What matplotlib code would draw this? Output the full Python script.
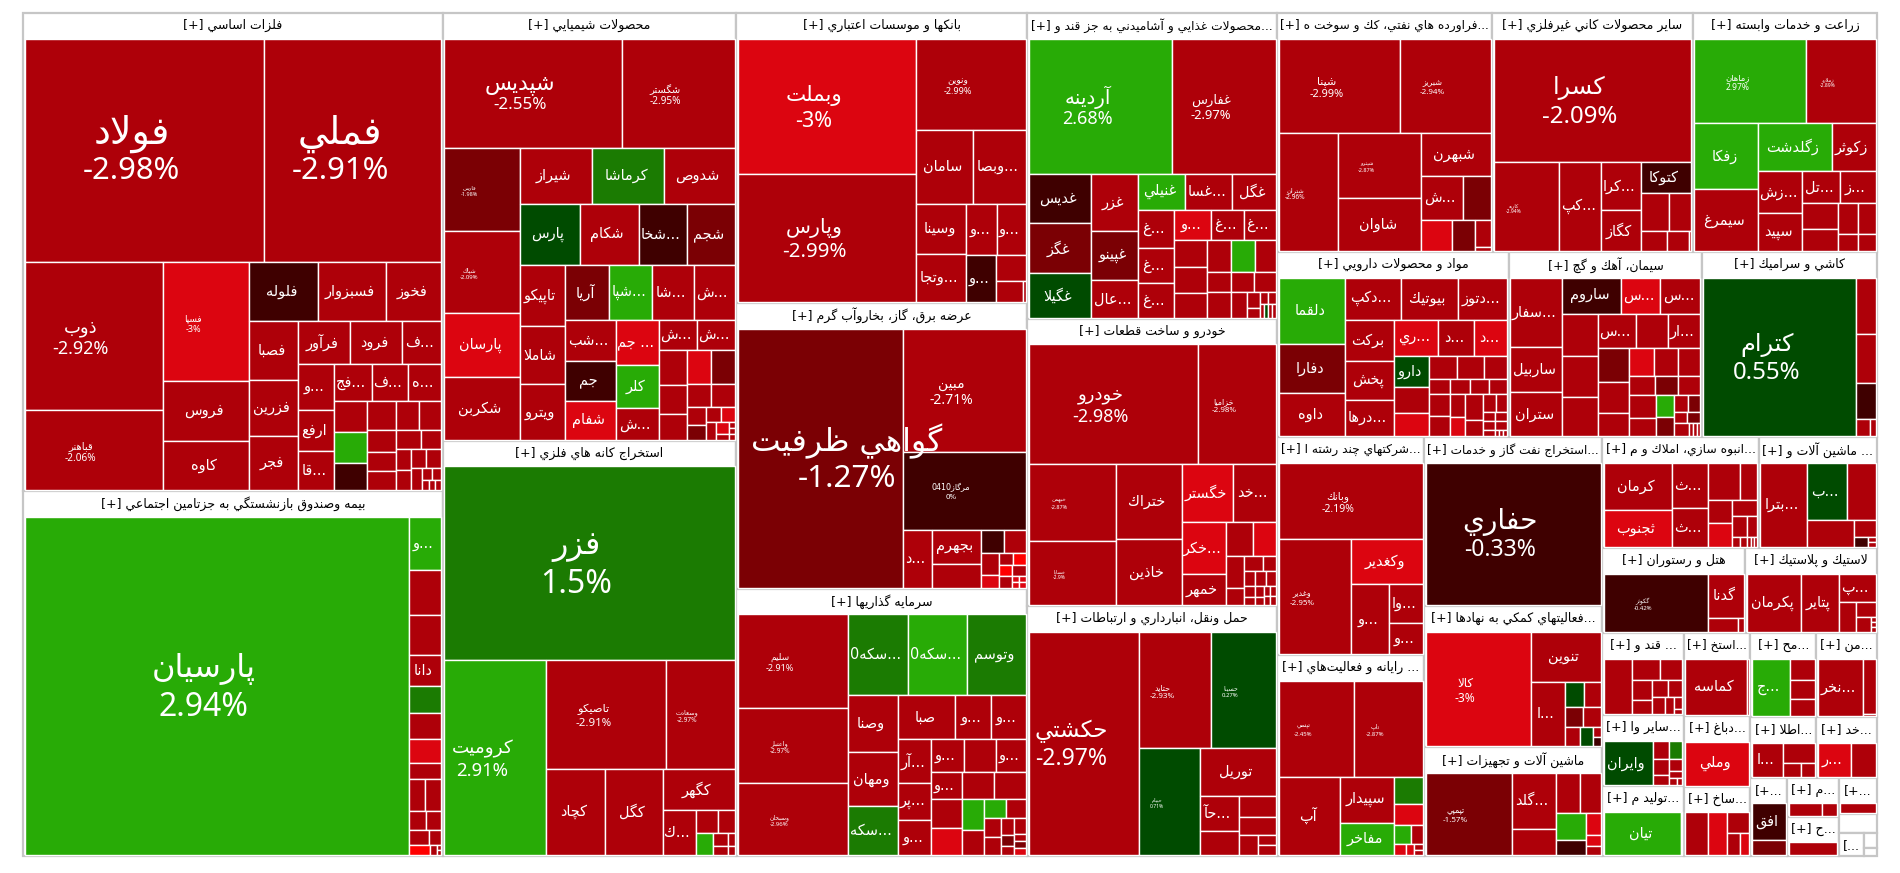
import re
import matplotlib
matplotlib.use("Agg")
import matplotlib.pyplot as plt
from matplotlib.colors import ListedColormap, BoundaryNorm
from matplotlib.patches import Rectangle

# cells: ["h"/"v", children...], leaf = (symbol, change %, market value)
metals_cells = ["v",
    ["h", ("فولاد", -2.98, 4802), ("فملي", -2.91, 3542)],
    ["h",
        ["v", ("ذوب", -2.92, 1834), ("قباهنر", -2.06, 988)],
        ["v", ("فسپا", -3, 916), ("فروس", -2.5, 457), ("كاوه", -2.5, 382)],
        ["v",
            ["h", ("فلوله", -0.5, 362), ("فسبزوار", -2.5, 355), ("فخوز", -2.5, 294)],
            ["h",
                ["v", ("فصبا", -2.5, 254), ("فزرين", -2.5, 242), ("فجر", -2.5, 236)],
                ["v",
                    ["h", ("فرآور", -2.5, 201), ("فرود", -2.5, 201), ("...ف", -2.5, 152)],
                    ["h",
                        ["v", ("...و", -2.5, 149), ("ارفع", -2.5, 134), ("...قا", -2.5, 130)],
                        ["v",
                            ["h", ("...فج", -2.5, 124), ("...ف", -2.5, 121), ("...ه", -2.5, 110)],
                            ["h",
                                ["v", ("", -2.5, 93), ("", 2.9, 92), ("", -0.5, 80)],
                                ["v",
                                    ["h", ("", -2.5, 72), ("", -2.5, 60), ("", -2.5, 58)],
                                    ["h",
                                        ["v", ("", -2.5, 55), ("", -2.5, 49), ("", -2.5, 48)],
                                        ["v",
                                            ["h", ("", -2.5, 45), ("", -2.5, 35)],
                                            ["h",
                                                ["v", ("", -2.5, 28), ("", -2.5, 27)],
                                                ["v",
                                                    ["h", ("", -2.5, 25), ("", -2.5, 26)],
                                                    ["h", ("", -2.5, 23),
                                                        ["v",
                                                            ["h", ("", -2.5, 10), ("", -2.5, 10)],
                                                            ["h", ("", -2.5, 6), ("", -2.5, 6), ("", -2.5, 6)]]]]]]]]]]]]]]]]

insurance_cells = ["h", ("پارسيان", 2.94, 11622),
    ["v", ("...و", 2.9, 155), ("", -2.5, 132), ("", -2.5, 116), ("دانا", -2.5, 90),
        ("", 1.5, 78), ("", -2.5, 75), ("", -3, 69), ("", -2.5, 47),
        ["h", ("", -2.5, 46), ("", -2.5, 47)],
        ["h", ("", -2.5, 28), ("", -2.5, 26)],
        ["h", ("", -2.5, 27), ("", -2.5, 17)],
        ["h", ("", -4, 19), ("", -2.5, 7), ["v", ("", -2.5, 2), ("", -2.5, 2)]]]]

chem_cells = ["v",
    ["h", ("شپديس", -2.55, 1743), ("شگستر", -2.95, 1102)],
    ["h",
        ["v", ("فارس", -1.98, 558), ("شپاك", -2.09, 551), ("پارسان", -3, 432), ("شكربن", -2.5, 423)],
        ["v",
            ["h", ("شيراز", -2.5, 362), ("كرماشا", 1.5, 360), ("شدوص", -2.5, 349)],
            ["h", ("پارس", 0.5, 331), ("شكام", -2.5, 326), ("...شخا", -0.5, 267), ("شجم", -1.5, 263)],
            ["h",
                ["v", ("تاپيكو", -2.5, 247), ("شاملا", -2.5, 234), ("ويترو", -2.5, 225)],
                ["v",
                    ["h", ("آريا", -1.5, 217), ("...شپا", 2.9, 212), ("...شا", -2.5, 204), ("...ش", -2.5, 199)],
                    ["h",
                        ["v", ("...شب", -2.5, 187), ("جم", -0.5, 181), ("شفام", -3, 179)],
                        ["v", ("... جم", -3, 173), ("كلر", 2.9, 166), ("...ش", -2.5, 122)],
                        ["v",
                            ["h", ("...ش", -2.5, 104), ("...ش", -2.5, 99)],
                            ["h",
                                ["v", ("", -2.5, 89), ("", -2.5, 72), ("", -2.5, 65)],
                                ["v",
                                    ["h", ("", -3, 75), ("", -1.5, 70)],
                                    ["h", ("", -2.5, 52), ("", -2.5, 50)],
                                    ["h",
                                        ["v", ("", -2.5, 31), ("", -1.5, 25)],
                                        ["v",
                                            ["h", ("", -2.5, 20), ("", -3, 18)],
                                            ["h", ("", -2.5, 17),
                                                ["v", ("", -3, 13), ("", -2.5, 7)],
                                                ["v", ("", -2.5, 3), ("", -2.5, 3), ("", -2.5, 3)]]]]]]]]]]]]]

mining_cells = ["v", ("فزر", 1.5, 5029),
    ["h", ("كروميت", 2.91, 1775),
        ["v",
            ["h", ("تاصيكو", -2.91, 1166), ("وسعادت", -2.97, 664)],
            ["h", ("كچاد", -2.5, 451), ("كگل", -2.5, 444),
                ["v", ("كگهر", -2.5, 263),
                    ["h", ("...ك", -2.5, 133),
                        ["v",
                            ["h", ("", -2.5, 45), ("", -2.5, 35)],
                            ["h", ("", 2.9, 34),
                                ["v",
                                    ["h", ("", -2.5, 18), ("", -2.5, 8)],
                                    ["h", ("", -2.5, 12), ("", -2.5, 5)]]]]]]]]]]

banks_cells = ["h",
    ["v", ("وبملت", -3, 1901), ("وپارس", -2.99, 1795)],
    ["v", ("ونوين", -2.99, 780),
        ["h", ("سامان", -2.5, 331), ("...وبصا", -2.5, 302)],
        ["h",
            ["v", ("وسينا", -2.5, 197), ("...وتجا", -2.5, 189)],
            ["v",
                ["h", ("...و", -2.5, 121), ("...و", -2.5, 115)],
                ["h", ("...و", -0.5, 110),
                    ["v", ("", -2.5, 62), ["h", ("", -2.5, 44), ("", -2.5, 4)]]]]]]]

energy_cells = ["h", ("گواهي ظرفيت", -1.27, 3347),
    ["v", ("مبين", -2.71, 1186), ("مرگاز0410", 0, 748),
        ["h", ("...د", -2.5, 135),
            ["v", ("بجهرم", -2.5, 130), ("", -2.5, 91)],
            ["v",
                ["h", ("", -0.5, 42), ("", -2.5, 38)],
                ["h",
                    ["v", ("", -2.5, 33), ("", -3, 18)],
                    ["v",
                        ["h", ("", -2.5, 13), ("", -4, 12)],
                        ["h", ("", -4, 12), ("", -2.5, 12)],
                        ["h", ("", -2.5, 12),
                            ["v", ["h", ("", -3, 3), ("", -3, 3)], ["h", ("", -3, 3), ("", -3, 3)]]]]]]]]]

invest_cells = ["h",
    ["v", ("سليم", -2.91, 906), ("واعتبار", -2.97, 724), ("وسبحان", -2.96, 701)],
    ["v",
        ["h", ("...سكه0", 1.5, 428), ("...سكه0", 2.9, 417), ("وتوسم", 1.5, 417)],
        ["h",
            ["v", ("وصنا", -2.5, 255), ("ومهان", -2.5, 243), ("...سكه", 1.5, 218)],
            ["v",
                ["h", ("صبا", -2.5, 222), ("...و", -2.5, 139), ("...و", -2.5, 136)],
                ["h",
                    ["v", ("...آر", -2.5, 125), ("...پر", -2.5, 106), ("...و", -2.5, 101)],
                    ["v",
                        ["h", ("...و", -2.5, 95), ("", -2.5, 91), ("...و", -2.5, 86)],
                        ["h", ("...و", -2.5, 75), ("", -2.5, 78), ("", -2.5, 75)],
                        ["h",
                            ["v", ("", -2.5, 78), ("", -3, 74)],
                            ["v", ("", 2.9, 59), ("", -2.5, 49)],
                            ["v",
                                ["h", ("", 2.9, 36), ("", -2.5, 32)],
                                ["h",
                                    ["v", ("", -2.5, 28), ("", -2.5, 26)],
                                    ["v", ("", -2.5, 20), ("", -1.5, 13), ("", -2.5, 11)],
                                    ["v", ("", -2.5, 16), ("", -2.5, 7), ("", -1.5, 7), ("", -3, 7)]]]]]]]]]]

food_cells = ["v",
    ["h", ("آردينه", 2.68, 1737), ("غفارس", -2.97, 1246)],
    ["h",
        ["v", ("غديس", -0.5, 278), ("غگز", -1.5, 282), ("غگيلا", 0.5, 250)],
        ["v", ("غزر", -2.5, 242), ("غپينو", -1.5, 203), ("...عال", -2.5, 158)],
        ["v",
            ["h", ("غنيلي", 2.9, 153), ("...غسا", -2.5, 153), ("غگل", -2.5, 140)],
            ["h",
                ["v", ("...غ", -2.5, 121), ("...غ", -2.5, 114), ("...غ", -2.5, 110)],
                ["v",
                    ["h", ("...و", -3, 102), ("...غ", -2.5, 88), ("...غ", -2.5, 86)],
                    ["h",
                        ["v", ("", -2.5, 78), ("", -2.5, 76), ("", -2.5, 74)],
                        ["v",
                            ["h", ("", -2.5, 69), ("", 2.9, 68), ("", -2.5, 59)],
                            ["h", ("", -2.5, 44), ("", -2.5, 42), ("", -2.5, 39)],
                            ["h", ("", -2.5, 57), ("", -2.5, 37),
                                ["v", ("", -2.5, 19), ("", -2.5, 11)],
                                ["v",
                                    ["h", ("", -2.5, 9), ("", -2.5, 8)],
                                    ["h", ("", -2.5, 5), ("", 0.5, 5), ("", -2.5, 5), ("", -2.5, 4)]]]]]]]]]]

auto_cells = ["v",
    ["h", ("خودرو", -2.98, 1795), ("خزامیا", -2.98, 821)],
    ["h",
        ["v", ("خبهمن", -2.87, 600), ("خساپا", -2.9, 500)],
        ["v", ("ختراك", -2.5, 439), ("خاذين", -2.5, 384)],
        ["v",
            ["h", ("خگستر", -3, 267), ("...خد", -2.5, 218)],
            ["h",
                ["v", ("...خكر", -3, 211), ("خمهر", -2.5, 122)],
                ["v",
                    ["h", ("", -2.5, 82), ("", -3, 69)],
                    ["h",
                        ["v", ("", -2.5, 49), ("", -2.5, 27)],
                        ["v",
                            ["h", ("", -2.5, 25), ("", -2.5, 17)],
                            ["h", ("", -2.5, 15), ("", -2.5, 15), ("", -2.5, 13)],
                            ["h",
                                ["v", ("", -2.5, 11), ("", -2.5, 8)],
                                ["v", ("", -2.5, 8), ("", -2.5, 6)],
                                ["v", ["h", ("", -2.5, 5), ("", -2.5, 5)], ["h", ("", -2.5, 5), ("", -2.5, 5)]]]]]]]]]]

transport_cells = ["h", ("حكشتي", -2.97, 2208),
    ["v",
        ["h", ("حتايد", -2.93, 746), ("حسينا", 0.27, 670)],
        ["h", ("حپيام", 0.71, 572),
            ["v", ("توريل", -2.5, 320),
                ["h",
                    ["v", ("...حآ", -2.5, 123), ("", -2.5, 84)],
                    ["v", ("", -2.5, 70), ("", -2.5, 60),
                        ["h", ("", -2.5, 34), ["v", ("", -2.5, 15), ("", -2.5, 16)]]]]]]]]

oil_cells = ["v",
    ["h", ("شپنا", -2.99, 852), ("شبريز", -2.94, 637)],
    ["h", ("شتران", -2.96, 522),
        ["v", ("شپترو", -2.87, 404), ("شاوان", -2.5, 327)],
        ["v", ("شبهرن", -2.5, 221),
            ["h", ("...ش", -2.5, 134), ("", -1.5, 91)],
            ["h", ("", -3, 71), ("", -1.5, 54), ["v", ("", -2.5, 32), ("", -2.5, 5)]]]]]

nonmetal_cells = ["v", ("كسرا", -2.09, 1822),
    ["h", ("كاريه", -2.94, 435), ("...كپ", -2.5, 280),
        ["v", ("...كرا", -2.5, 142), ("كگاز", -2.5, 120)],
        ["v", ("كتوكا", -0.5, 119),
            ["h", ("", -2.5, 78), ("", -2.5, 63)],
            ["h", ("", -2.5, 40), ("", -2.5, 34), ("", -2.5, 4)]]]]

agri_cells = ["v",
    ["h", ("زماهان", 2.97, 698), ("زملارد", -2.89, 431)],
    ["h",
        ["v", ("زفكا", 2.9, 313), ("سيمرغ", -2.5, 292)],
        ["v",
            ["h", ("زگلدشت", 2.9, 264), ("زكوثر", -2.5, 157)],
            ["h",
                ["v", ("...زش", -2.5, 136), ("سپيد", -2.5, 123)],
                ["v",
                    ["h", ("...تل", -2.5, 86), ("...ز", -2.5, 83)],
                    ["h",
                        ["v", ("", -2.5, 70), ("", -2.5, 57)],
                        ["v",
                            ["h", ("", -2.5, 46), ("", -2.5, 40)],
                            ["h", ("", -2.5, 26), ("", -2.5, 23)]]]]]]]]

drugs_cells = ["h",
    ["v", ("دلقما", 2.9, 332), ("دفارا", -1.5, 244), ("داوه", -2.5, 216)],
    ["v",
        ["h", ("...دكپ", -2.5, 175), ("بيوتيك", -2.5, 178), ("...دتوز", -2.5, 157)],
        ["h",
            ["v", ("بركت", -2.5, 148), ("پخش", -2.5, 140), ("...درها", -2.5, 132)],
            ["v",
                ["h", ("...ري", -3, 121), ("...د", -2.5, 99), ("...د", -3, 90)],
                ["h",
                    ["v", ("دارو", 0.5, 82), ("", -2.5, 68), ("", -3, 62)],
                    ["v",
                        ["h", ("", -2.5, 46), ("", -2.5, 46), ("", -2.5, 39)],
                        ["h", ("", -2.5, 25), ("", -2.5, 23), ("", -2.5, 22), ("", -2.5, 22)],
                        ["h",
                            ["v", ("", -2.5, 34), ("", -2.5, 31)],
                            ["v", ("", -2.5, 26), ("", -3, 22)],
                            ["v", ("", -2.5, 34), ("", -2.5, 21)],
                            ["v",
                                ["h", ("", -2.5, 17), ("", -2.5, 16)],
                                ["h", ("", -2.5, 8), ("", -2.5, 8)],
                                ["h", ("", -2.5, 8), ("", -2.5, 8)],
                                ["h", ("", -2.5, 6), ("", -2.5, 2), ("", -2.5, 2), ("", -2.5, 2)]]]]]]]]]

cement_cells = ["h",
    ["v", ("...سفار", -2.5, 273), ("ساربيل", -2.5, 175), ("ستران", -2.5, 172)],
    ["v",
        ["h", ("ساروم", -0.5, 160), ("...س", -3, 110), ("...س", -2.5, 110)],
        ["h",
            ["v", ("", -2.5, 110), ("", -2.5, 110), ("", -2.5, 103)],
            ["v",
                ["h", ("...س", -2.5, 99), ("", -2.5, 82), ("...ار", -2.5, 82)],
                ["h",
                    ["v", ("", -1.5, 80), ("", -2.5, 73), ("", -2.5, 55)],
                    ["v",
                        ["h", ("", -3, 53), ("", -2.5, 51), ("", -2.5, 48)],
                        ["h", ("", -2.5, 37), ("", -1.5, 33), ("", -2.5, 32)],
                        ["h",
                            ["v", ("", -2.5, 46), ("", -2.5, 37)],
                            ["v", ("", 2.9, 30), ("", -1.5, 26)],
                            ["v",
                                ["h", ("", -2.5, 18), ("", -1.5, 16)],
                                ["h", ("", -2.5, 10), ("", -1.5, 10)],
                                ["h", ("", -2.5, 15), ("", -2.5, 4), ("", -2.5, 4), ("", -2.5, 4)]]]]]]]]]

tile_cells = ["h", ("كترام", 0.55, 1789),
    ["v", ("", -2.5, 82), ("", -2.5, 70), ("", -0.5, 52), ["h", ("", -2.5, 18), ("", -2.5, 7)]]]

multi_cells = ["v", ("وبانك", -2.19, 942),
    ["h", ("وغدير", -2.95, 718),
        ["v", ("وكغدير", -3, 281),
            ["h", ("...و", -2.5, 226), ["v", ("...وا", -2.5, 112), ("...و", -2.5, 90)]]]]]

computer_cells = ["v",
    ["h", ("تپسي", -2.45, 637), ("تاپ", -2.87, 575)],
    ["h", ("آپ", -2.5, 425),
        ["v", ("سپيدار", -2.5, 219), ("مفاخر", 2.9, 152)],
        ["v", ("", 1.5, 68), ("", -3, 51),
            ["h", ("", 2.9, 29), ("", -2.5, 20)],
            ["h", ("", -3, 11), ("", -3, 7), ["v", ("", -2.5, 4), ("", -2.5, 4)]]]]]

oilgas_cells = ("حفاري", -0.33, 2000)

support_cells = ["h", ("كالا", -3, 1035),
    ["v", ("تنوين", -2.5, 299),
        ["h", ("...ا", -2.5, 184),
            ["v",
                ["h", ("", 0.5, 41), ("", -2.5, 37)],
                ["h", ("", -1.5, 32), ("", -2.5, 29)],
                ["h", ("", -2.5, 26), ("", 0.5, 21), ["v", ("", -2.5, 7), ("", -0.5, 6)]]]]]]

machinery_cells = ["h", ("تپمپي", -1.57, 605),
    ["v", ("...گلد", -2.5, 211), ("", -2.5, 96)],
    ["v",
        ["h", ("", -2.5, 84), ("", -2.5, 70)],
        ["h",
            ["v", ("", 2.9, 70), ("", -0.5, 40)],
            ["v", ("", -3, 28), ("", -3, 13), ("", -2.5, 11)]]]]

mass_cells = ["h",
    ["v", ("كرمان", -2.5, 272), ("ثجنوب", -3, 215)],
    ["v", ("...ث", -2.5, 137), ("...ث", -2.5, 120)],
    ["v",
        ["h", ("", -2.5, 102), ("", -2.5, 54)],
        ["h",
            ["v", ("", -2.5, 48), ("", -3, 49)],
            ["v", ("", -2.5, 34),
                ["h", ("", -2.5, 25), ("", -2.5, 19)],
                ["h", ("", -2.5, 7), ("", -2.5, 6), ("", -2.5, 3), ("", -2.5, 3), ("", -2.5, 3)]]]]]

mach2_cells = ["h", ("...بترا", -2.5, 324),
    ["v",
        ["h", ("...ب", 0.5, 186), ("", -2.5, 133)],
        ["h", ("", -2.5, 105),
            ["v", ("", -2.5, 31), ["h", ("", -0.5, 11), ["v", ("", -2.5, 3), ("", -2.5, 3)]]]]]]

hotel_cells = ["h", ("گكوثر", -0.42, 509),
    ["v", ("گدنا", -2.5, 132), ["h", ("", -2.5, 36), ("", -2.5, 7)]]]

plastic_cells = ["h", ("پكرمان", -2.5, 261), ("پتاير", -2.5, 179),
    ["v", ("...پ", -2.5, 86),
        ["h", ("", -2.5, 43),
            ["v", ("", -2.5, 23), ["h", ("", -2.5, 18), ["v", ("", -2.5, 2), ("", -2.5, 2), ("", -2.5, 2)]]]]]]

sugar_cells = ["h", ("", -2.5, 132),
    ["v",
        ["h", ("", -2.5, 51), ("", -2.5, 40)],
        ["h",
            ["v", ("", -2.5, 35), ("", -2.5, 24)],
            ["v",
                ["h", ("", -2.5, 23), ("", -2.5, 20)],
                ["h", ("", -2.5, 18), ("", -2.5, 13), ["v", ("", -2.5, 8), ("", -2.5, 4)]]]]]]

istekh_cells = ["h", ("كماسه", -2.5, 305), ("", -2.5, 8)]
mah_cells = ["h", ("...ج", 2.9, 183), ["v", ("", -2.5, 44), ("", -2.5, 40), ("", -2.5, 35)]]
mn_cells = ["h", ("...نخر", -2.5, 212), ["v", ("", -2.5, 58), ("", -2.5, 2)]]
sayer_cells = ["h", ("وايران", 0.5, 196),
    ["v",
        ["h", ("", -2.5, 26), ("", 1.5, 23)],
        ["h",
            ["v", ("", -2.5, 23), ("", -2.5, 15)],
            ["v", ("", -2.5, 14), ("", -2.5, 7), ["h", ("", -2.5, 5), ("", -2.5, 4)]]]]]
dabbagh_cells = ("وملي", -3, 100)
atla_cells = ["h", ("...ا", -2.5, 93), ["v", ("", -2.5, 58), ["h", ("", -2.5, 22), ("", -2.5, 16)]]]
khad_cells = ["h", ("...ر", -3, 95), ("", -2.5, 70)]
tolid_cells = ["h", ("تيان", 2.9, 288), ("", -2.5, 5)]
sakh_cells = ["h", ("", -2.5, 75), ("", -3, 63),
    ["v", ("", -2.5, 34), ["h", ("", -2.5, 22), ("", -3, 15)]]]
ofogh_cells = ["v", ("افق", -0.5, 100), ("", -1.5, 40)]
m_cells = ["h", ("", -2.5, 95), ("", -2.5, 45)]
h_cells = ("", -2.5, 100)
tiny_cells = ("", -2.5, 30)

# symbols that also show their change, with the text size (px) they get
label_px = {"فولاد": 31, "فملي": 31, "ذوب": 18, "قباهنر": 10, "فسپا": 9, "پارسيان": 32,
            "شپديس": 17, "شگستر": 10, "فارس": 5.5, "شپاك": 6, "فزر": 32, "كروميت": 18.5,
            "تاصيكو": 11.5, "وسعادت": 6.5, "وبملت": 21.5, "وپارس": 20.5, "ونوين": 9,
            "گواهي ظرفيت": 31.5, "مبين": 14, "مرگاز0410": 8, "سليم": 9, "واعتبار": 6.5,
            "وسبحان": 6, "آردينه": 18, "غفارس": 13, "خودرو": 18, "خزامیا": 8, "خبهمن": 5.5,
            "خساپا": 5, "حكشتي": 23, "حتايد": 8, "حسينا": 6, "حپيام": 5, "شپنا": 11,
            "شبريز": 8, "شپترو": 5.5, "شتران": 6.5, "كسرا": 24, "كاريه": 5, "زماهان": 8.5,
            "زملارد": 5, "كترام": 24, "وبانك": 10.5, "وغدير": 8, "حفاري": 23, "كالا": 12,
            "تپسي": 6, "تاپ": 6, "تپمپي": 8, "گكوثر": 6}
# the symbol line is drawn larger than the % line on these
name_px = {"فولاد": 38, "فملي": 38, "شپديس": 22, "حفاري": 28, "آردينه": 20}
label_nudge = {"گواهي ظرفيت": 40}


def sec(title, value, cells=None):
    return {"title": title, "value": value, "cells": cells}


treemap = ["h",
    ["v", sec("فلزات اساسي [+]", 2008, metals_cells),
        sec("بيمه وصندوق بازنشستگي به جزتامين اجتماعي [+]", 1532, insurance_cells)],
    ["v", sec("محصولات شيميايي [+]", 1254, chem_cells),
        sec("استخراج كانه هاي فلزي [+]", 1216, mining_cells)],
    ["v", sec("بانكها و موسسات اعتباري [+]", 844, banks_cells),
        sec("عرضه برق، گاز، بخاروآب گرم [+]", 832, energy_cells),
        sec("سرمايه گذاريها [+]", 777, invest_cells)],
    ["v", sec("...محصولات غذايي و آشاميدني به جز قند و [+]", 765, food_cells),
        sec("خودرو و ساخت قطعات [+]", 718, auto_cells),
        sec("حمل ونقل، انبارداري و ارتباطات [+]", 625, transport_cells)],
    ["v",
        ["h", sec("...فراورده هاي نفتي، كك و سوخت ه [+]", 514, oil_cells),
            sec("ساير محصولات كاني غيرفلزي [+]", 480, nonmetal_cells),
            sec("زراعت و خدمات وابسته [+]", 440, agri_cells)],
        ["h", sec("مواد و محصولات دارويي [+]", 429, drugs_cells),
            sec("سيمان، آهك و گچ [+]", 357, cement_cells),
            sec("كاشي و سراميك [+]", 324, tile_cells)],
        ["h",
            ["v", sec("...شركتهاي چند رشته ا [+]", 320, multi_cells),
                sec("... رايانه و فعاليت\u200cهاي [+]", 295, computer_cells)],
            ["v", sec("...استخراج نفت گاز و خدمات [+]", 301, oilgas_cells),
                sec("...فعاليتهاي كمكي به نهادها [+]", 251, support_cells),
                sec("ماشين آلات و تجهيزات [+]", 194, machinery_cells)],
            ["v",
                ["h", sec("...انبوه سازي، املاك و م [+]", 174, mass_cells),
                    sec("... ماشين آلات و [+]", 131, mach2_cells)],
                ["h", sec("هتل و رستوران [+]", 122, hotel_cells),
                    sec("لاستيك و پلاستيك [+]", 112, plastic_cells)],
                ["h",
                    ["v", sec("... قند و [+]", 67, sugar_cells),
                        sec("...ساير وا [+]", 58, sayer_cells),
                        sec("...توليد م [+]", 57, tolid_cells)],
                    ["v", sec("...استخ [+]", 55, istekh_cells),
                        sec("...دباغ [+]", 47, dabbagh_cells),
                        sec("...ساخ [+]", 46, sakh_cells)],
                    ["v",
                        ["h", sec("...مح [+]", 55, mah_cells), sec("...من [+]", 51, mn_cells)],
                        ["h", sec("...اطلا [+]", 40, atla_cells), sec("...خد [+]", 37, khad_cells)],
                        ["h", sec("[+...", 29, ofogh_cells),
                            ["v", sec("...م [+]", 20, m_cells), sec("...ح [+]", 20, h_cells)],
                            ["v", sec("[+...", 14, tiny_cells), sec("", 7),
                                ["h", sec("[...", 6),
                                    ["v", sec("", 2), sec("", 1)]]]]]]]]]]

# change bands and their colours
band_edges = [-10, -3.5, -2.995, -2, -1, 0.001, 1, 2, 10]
band_colors = ["#ff0000", "#dc0510", "#ae0009", "#7b0004", "#3f0000", "#004b00", "#1b7b02", "#28ab06"]
cmap = ListedColormap(band_colors)
norm = BoundaryNorm(band_edges, cmap.N)

# presentation forms: letter -> first form, forms in the order isolated, final, initial, medial
dual = {"ب": 0xFE8F, "پ": 0xFB56, "ت": 0xFE95, "ث": 0xFE99, "ج": 0xFE9D, "چ": 0xFB7A, "ح": 0xFEA1,
        "خ": 0xFEA5, "س": 0xFEB1, "ش": 0xFEB5, "ص": 0xFEB9, "ض": 0xFEBD, "ط": 0xFEC1, "ظ": 0xFEC5,
        "ع": 0xFEC9, "غ": 0xFECD, "ف": 0xFED1, "ق": 0xFED5, "ك": 0xFED9, "ک": 0xFB8E, "گ": 0xFB92,
        "ل": 0xFEDD, "م": 0xFEE1, "ن": 0xFEE5, "ه": 0xFEE9, "ي": 0xFEF1, "ی": 0xFBFC, "ئ": 0xFE89}
right_only = {"ا": 0xFE8D, "آ": 0xFE81, "أ": 0xFE83, "إ": 0xFE87, "ؤ": 0xFE85, "د": 0xFEA9, "ذ": 0xFEAB,
              "ر": 0xFEAD, "ز": 0xFEAF, "ژ": 0xFB8A, "و": 0xFEED, "ة": 0xFE93}
lam_alef = {"ا": 0xFEFB, "آ": 0xFEF5, "أ": 0xFEF7}


def shape_word(word):
    # matplotlib has no Arabic shaping, so pick the joined glyphs here
    out = []
    i = 0
    joins = False
    while i < len(word):
        c = word[i]
        nxt = word[i + 1] if i + 1 < len(word) else ""
        if c == "ل" and nxt in lam_alef and nxt:
            out.append(chr(lam_alef[nxt] + (1 if joins else 0)))
            joins = False
            i += 2
        elif c in dual:
            to_next = nxt in dual or nxt in right_only
            form = (1 if joins else 0) if not to_next else (3 if joins else 2)
            out.append(chr(dual[c] + form))
            joins = to_next
            i += 1
        elif c in right_only:
            out.append(chr(right_only[c] + (1 if joins else 0)))
            joins = False
            i += 1
        else:
            if c != "\u200c":
                out.append(c)
            joins = False
            i += 1
    return "".join(reversed(out))


def visual(text):
    tokens = re.findall(r"[\u0600-\u06FF\u200c]+|\s+|[^\u0600-\u06FF\u200c\s]+", text)
    parts = [shape_word(t) if re.match(r"[\u0600-\u06FF\u200c]", t) else t for t in tokens]
    return "".join(reversed(parts))


def node_value(node):
    if isinstance(node, dict):
        return node["value"]
    if isinstance(node, tuple):
        return node[2]
    return sum(node_value(c) for c in node[1:])


def place(node, x, y, w, h, found):
    if isinstance(node, (dict, tuple)):
        found.append((node, x, y, w, h))
        return
    total = node_value(node)
    for child in node[1:]:
        share = node_value(child) / total
        if node[0] == "h":
            place(child, x, y, w * share, h, found)
            x += w * share
        else:
            place(child, x, y, w, h * share, found)
            y += h * share


def px(size):
    return size * 72 / 100


def fit(txt, width):
    # shrink a label that would run out of its box
    extent = txt.get_window_extent(renderer).width
    if extent > width:
        txt.set_fontsize(txt.get_fontsize() * width / extent)


fig = plt.figure(figsize=(19, 8.73), dpi=100)
ax = fig.add_axes([0, 0, 1, 1])
ax.set_xlim(0, 1900)
ax.set_ylim(873, 0)
ax.axis("off")
renderer = fig.canvas.get_renderer()

header_h = 25.5
sectors = []
place(treemap, 23, 13, 1854, 843, sectors)

for sector, x, y, w, h in sectors:
    ax.add_patch(Rectangle((x, y), w, h, fc="white", ec="#c6c6c6", lw=1.6, zorder=1))
    if sector["title"]:
        t = ax.text(x + w / 2, y + 12.5, visual(sector["title"]), ha="center", va="center",
                    fontsize=px(12.5), color="black", family="DejaVu Sans", zorder=4, parse_math=False)
        fit(t, w - 6)
    if sector["cells"] is None or h <= header_h + 2:
        continue
    leaves = []
    place(sector["cells"], x + 1.5, y + header_h, w - 3, h - header_h - 1, leaves)
    for (name, pct, value), lx, ly, lw, lh in leaves:
        ax.add_patch(Rectangle((lx, ly), lw, lh, fc=cmap(norm(pct)), ec="white", lw=1.0, zorder=2))
        if not name:
            continue
        cx = lx + lw / 2
        cy = ly + lh / 2
        if name in label_px:
            size = label_px[name]
            cx = cx - 13 + label_nudge.get(name, 0)
            ax.text(cx, cy + 2 - 0.6 * size, visual(name), ha="center", va="center", color="white",
                    fontsize=px(name_px.get(name, size)), family="DejaVu Sans", zorder=5, parse_math=False)
            ax.text(cx, cy + 2 + 0.6 * size, f"{pct:g}%", ha="center", va="center", color="white",
                    fontsize=px(size), family=["Noto Sans", "DejaVu Sans"], zorder=5, parse_math=False)
        else:
            t = ax.text(cx - 2, cy, visual(name), ha="center", va="center", color="white",
                        fontsize=px(14.5), family="DejaVu Sans", zorder=5, parse_math=False)
            fit(t, lw - 5)

fig.savefig("out.png", dpi=100)
